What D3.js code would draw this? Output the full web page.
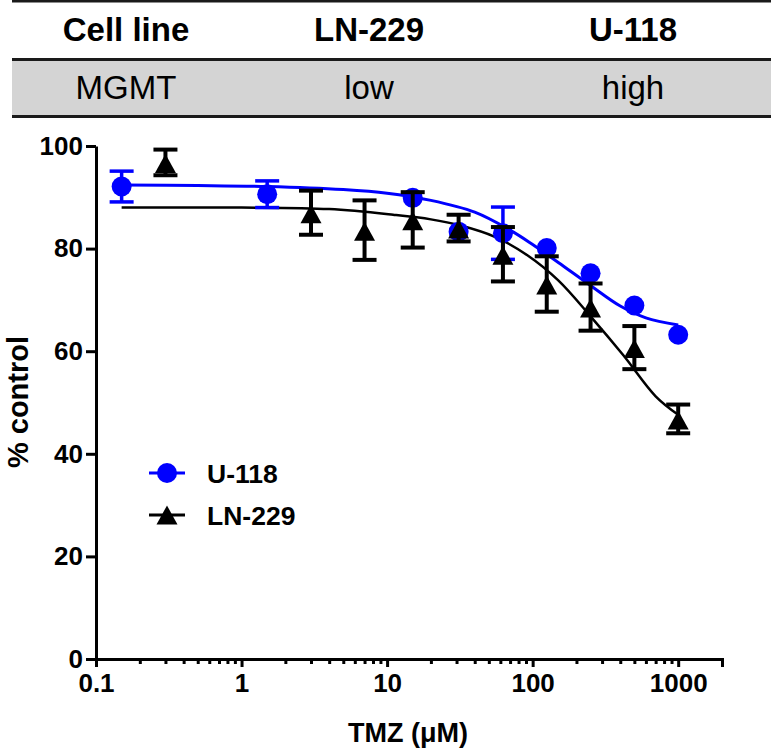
<!DOCTYPE html>
<html><head><meta charset="utf-8">
<script src="https://cdn.jsdelivr.net/npm/d3@7"></script>
<style>body{margin:0;background:#fff}</style>
</head><body>
<svg id="c" width="771" height="748"></svg>
<script>
// ---- data ----
const tableHeader = ["Cell line", "LN-229", "U-118"];
const tableRow = ["MGMT", "low", "high"];

const u118Conc = [0.15, 1.5, 15, 31, 62.5, 125, 250, 500, 1000];
const u118Mean = [92.1, 90.6, 89.9, 83.3, 83.0, 80.1, 75.2, 68.9, 63.2];
const u118Sem  = [3.0, 2.6, 0, 0, 5.1, 0, 0, 0, 0];

const ln229Conc = [0.3, 3, 7, 15, 31, 62.5, 125, 250, 500, 1000];
const ln229Mean = [96.8, 87.0, 83.6, 85.6, 84.0, 78.9, 73.1, 68.6, 60.7, 46.8];
const ln229Sem  = [2.5, 4.3, 5.8, 5.4, 2.6, 5.3, 5.4, 4.6, 4.2, 2.8];

// fitted curves
const u118FitConc = [0.15, 0.5, 1.5, 5, 10, 20, 40, 70, 100, 150, 250, 400, 600, 1000];
const u118FitVal  = [92.4, 92.3, 92.1, 91.5, 90.8, 89.4, 87.1, 83.6, 80.8, 77.3, 72.8, 68.8, 66.5, 65.1];
const ln229FitConc = [0.15, 1, 4, 11, 20, 32, 55, 92, 150, 250, 420, 700, 1000];
const ln229FitVal  = [88.0, 88.0, 87.7, 86.6, 85.7, 84.5, 82.3, 78.7, 73.8, 66.8, 59.2, 51.2, 47.6];

const yTicks = [0, 20, 40, 60, 80, 100];
const xTicks = [0.1, 1, 10, 100, 1000];
const xTickLabels = ["0.1", "1", "10", "100", "1000"];
const xMinor = [0.2,0.3,0.4,0.5,0.6,0.7,0.8,0.9,2,3,4,5,6,7,8,9,20,30,40,50,60,70,80,90,200,300,400,500,600,700,800,900];
const seriesNames = ["U-118", "LN-229"];

// ---- drawing ----
const svg = d3.select("#c");
const FONT = "'Liberation Sans', Arial, sans-serif";
const BLUE = "#0000ff";

// table
const colX = [126, 369, 633];
svg.append("rect").attr("x", 12).attr("y", 60).attr("width", 759).attr("height", 56).attr("fill", "#d4d4d4");
[[12, 1], [12, 59.5], [12, 116.5]].forEach(([x0, yy]) => {
  svg.append("line").attr("x1", x0).attr("x2", 771).attr("y1", yy).attr("y2", yy)
    .attr("stroke", "#1a1a1a").attr("stroke-width", 3);
});
svg.append("g").selectAll("text").data(tableHeader).join("text")
  .attr("x", (d, i) => colX[i]).attr("y", 41).attr("text-anchor", "middle")
  .attr("font-family", FONT).attr("font-weight", "bold").attr("font-size", 33).text(d => d);
svg.append("g").selectAll("text").data(tableRow).join("text")
  .attr("x", (d, i) => colX[i]).attr("y", 99).attr("text-anchor", "middle")
  .attr("font-family", FONT).attr("font-size", 33).text(d => d);

// scales
const x = d3.scaleLog().domain([0.1, 2000]).range([96, 722]);
const y = d3.scaleLinear().domain([0, 100]).range([659, 146]);

// axes
const yAxis = svg.append("g").attr("transform", "translate(96,0)")
  .call(d3.axisLeft(y).tickValues(yTicks).tickSize(10).tickSizeOuter(0).tickPadding(3).tickFormat(d3.format("d")));
const xMinorAxis = svg.append("g").attr("transform", "translate(0,659)")
  .call(d3.axisBottom(x).tickValues(xMinor).tickSize(5).tickSizeOuter(0).tickFormat(""));
xMinorAxis.select(".domain").remove();
const xAxis = svg.append("g").attr("transform", "translate(0,659)")
  .call(d3.axisBottom(x).tickValues(xTicks).tickSize(8).tickSizeOuter(8).tickPadding(6)
    .tickFormat((d, i) => xTickLabels[i]));
[yAxis, xAxis, xMinorAxis].forEach(g => {
  g.selectAll("path,line").attr("stroke", "#000").attr("stroke-width", 3);
  g.selectAll("text").attr("font-family", FONT).attr("font-weight", "bold").attr("font-size", 26).attr("fill", "#000");
});
xAxis.selectAll("text").attr("dy", "0.72em");

svg.append("text").attr("transform", "translate(28,402) rotate(-90)").attr("text-anchor", "middle")
  .attr("font-family", FONT).attr("font-weight", "bold").attr("font-size", 29).text("% control");
svg.append("text").attr("x", 408).attr("y", 742).attr("text-anchor", "middle")
  .attr("font-family", FONT).attr("font-weight", "bold").attr("font-size", 27).text("TMZ (\u03bcM)");

// curves
const line = d3.line().x(d => x(d[0])).y(d => y(d[1])).curve(d3.curveCatmullRom.alpha(0.5));
svg.append("path").datum(d3.zip(u118FitConc, u118FitVal)).attr("d", line)
  .attr("fill", "none").attr("stroke", BLUE).attr("stroke-width", 3);
svg.append("path").datum(d3.zip(ln229FitConc, ln229FitVal)).attr("d", line)
  .attr("fill", "none").attr("stroke", "#000").attr("stroke-width", 2.5);

function errBars(g, conc, mean, sem, color, w) {
  const d = d3.zip(conc, mean, sem).filter(e => e[2] > 0);
  g.selectAll(null).data(d).join("line")
    .attr("x1", e => x(e[0])).attr("x2", e => x(e[0]))
    .attr("y1", e => y(e[1] + e[2])).attr("y2", e => y(e[1] - e[2]))
    .attr("stroke", color).attr("stroke-width", w);
  [1, -1].forEach(s => {
    g.selectAll(null).data(d).join("line")
      .attr("x1", e => x(e[0]) - 12).attr("x2", e => x(e[0]) + 12)
      .attr("y1", e => y(e[1] + s * e[2])).attr("y2", e => y(e[1] + s * e[2]))
      .attr("stroke", color).attr("stroke-width", w);
  });
}
const tri = "M0,-8.5L10.5,10.5L-10.5,10.5Z";

const gU = svg.append("g");
errBars(gU, u118Conc, u118Mean, u118Sem, BLUE, 3.5);
gU.selectAll("circle").data(d3.zip(u118Conc, u118Mean)).join("circle")
  .attr("cx", d => x(d[0])).attr("cy", d => y(d[1])).attr("r", 10).attr("fill", BLUE);

const gL = svg.append("g");
errBars(gL, ln229Conc, ln229Mean, ln229Sem, "#000", 4);
gL.selectAll("path").data(d3.zip(ln229Conc, ln229Mean)).join("path")
  .attr("transform", d => `translate(${x(d[0])},${y(d[1])})`).attr("d", tri).attr("fill", "#000");

// legend
const leg = svg.append("g");
const legY = [473, 515];
const legColor = [BLUE, "#000"];
leg.selectAll("line").data(seriesNames).join("line")
  .attr("x1", 149).attr("x2", 185).attr("y1", (d, i) => legY[i]).attr("y2", (d, i) => legY[i])
  .attr("stroke", (d, i) => legColor[i]).attr("stroke-width", 3);
leg.append("circle").attr("cx", 167).attr("cy", legY[0]).attr("r", 10).attr("fill", BLUE);
leg.append("path").attr("transform", `translate(167,${legY[1] - 1})`).attr("d", tri).attr("fill", "#000");
leg.selectAll("text").data(seriesNames).join("text")
  .attr("x", 207).attr("y", (d, i) => legY[i]).attr("dy", "0.36em")
  .attr("font-family", FONT).attr("font-weight", "bold").attr("font-size", 26.5).text(d => d);
</script>
</body></html>
